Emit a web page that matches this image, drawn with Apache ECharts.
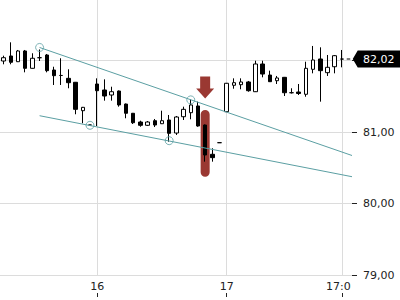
<!DOCTYPE html>
<html><head><meta charset="utf-8">
<script src="https://cdn.jsdelivr.net/npm/echarts@6/dist/echarts.min.js"></script>
<style>html,body{margin:0;padding:0;background:#fff}#c{width:400px;height:300px}</style>
</head><body><div id="c"></div>
<script>
// ---- data ----
const candleIndex = [0,1,2,3,4,5,6,7,8,9,10,11,12,13,14,15,16,17,18,19,20,21,22,23,24,25,26,27,28,29,30,31,32,33,34,35,36,37,38,39,40,41,42,43,44,45,46,47];
const opens  = [81.993,82.063,81.983,82.133,81.891,82.039,82.077,81.867,81.791,81.751,81.696,81.299,81.099,81.672,81.588,81.518,81.574,81.392,81.263,81.141,81.095,81.159,81.117,81.169,80.987,81.215,81.271,81.365,81.099,80.690,80.852,81.285,81.654,81.662,81.700,81.564,81.951,81.797,81.718,81.765,81.550,81.560,81.528,81.877,82.021,81.830,81.913,82.020];
const closes = [82.039,81.975,82.133,81.891,82.031,82.039,81.858,81.788,81.791,81.690,81.318,81.346,81.099,81.578,81.504,81.564,81.379,81.263,81.131,81.095,81.141,81.099,81.159,80.983,81.211,81.318,81.379,81.085,80.680,80.643,80.852,81.682,81.690,81.700,81.578,81.951,81.811,81.704,81.756,81.550,81.550,81.539,81.891,82.007,81.858,81.905,82.067,82.020];
const lows   = [81.947,81.947,81.979,81.835,81.888,81.993,81.835,81.658,81.658,81.612,81.249,81.123,81.099,81.085,81.439,81.439,81.355,81.193,81.113,81.075,81.085,81.071,81.113,80.866,80.960,81.169,81.179,81.075,80.587,80.587,80.852,81.281,81.606,81.598,81.564,81.560,81.765,81.700,81.672,81.504,81.539,81.518,81.494,81.821,81.425,81.784,81.821,81.905];
const highs  = [82.067,82.254,82.147,82.147,82.101,82.154,82.091,81.913,82.031,81.877,81.700,81.351,81.099,81.751,81.737,81.634,81.581,81.399,81.267,81.159,81.155,81.183,81.299,81.239,81.225,81.355,81.458,81.425,81.106,80.774,80.852,81.686,81.751,81.751,81.714,81.997,81.997,81.858,81.784,81.770,81.612,81.672,81.983,82.203,82.184,82.077,82.077,82.147];
const xTickValues = [13, 31, 47];
const xTickLabels = ['16', '17', '17:00'];
const yTickLabels = [79, 80, 81];
const upperTrend = [[5, 82.182], [48.4, 80.673]];
const lowerTrend = [[5, 81.229], [48.4, 80.377]];
const touchPoints = [[5, 82.182], [12, 81.095], [23, 80.88], [26, 81.45]];
const lastPrice = 82.02;
const signalCandle = 28;
const signalRange = [81.309, 80.377];
const arrowPrice = 81.623;

// ---- chart ----
const teal = '#5b9fa3';
const red = '#9a3832';
const font = 'DejaVu Sans';
const fmt = v => v.toFixed(2).replace('.', ',');
const candles = candleIndex.map((x, i) => [x, opens[i], closes[i], lows[i], highs[i]]);

const chart = echarts.init(document.getElementById('c'), null, {renderer: 'svg'});
chart.setOption({
  animation: false,
  backgroundColor: '#fff',
  grid: {left: 0, right: 48, top: -11.1, bottom: 24.7, containLabel: false, outerBoundsMode: 'none'},
  xAxis: [{
    type: 'value', min: -0.5, max: 48.4, position: 'bottom',
    axisLine: {show: false, onZero: false},
    axisTick: {show: false, customValues: xTickValues},
    axisLabel: {customValues: xTickValues, margin: 6, color: '#222', fontSize: 11, fontFamily: font,
      formatter: v => xTickLabels[xTickValues.indexOf(v)]},
    splitLine: {show: true, lineStyle: {color: '#dcdcdc', width: 1}}
  }, {
    type: 'value', min: -0.5, max: 48.4, position: 'bottom', offset: 21.7,
    axisLine: {show: false, onZero: false},
    axisTick: {show: true, inside: true, length: 4, customValues: xTickValues, lineStyle: {color: '#222'}},
    axisLabel: {show: false},
    splitLine: {show: false}
  }],
  yAxis: {
    type: 'value', position: 'right', min: 79, max: 83, interval: 1,
    axisLine: {show: false, onZero: false},
    axisTick: {show: true, length: 5, lineStyle: {color: '#222'}},
    axisLabel: {customValues: yTickLabels, margin: 11, color: '#222', fontSize: 11, fontFamily: font, formatter: fmt},
    splitLine: {show: true, lineStyle: {color: '#dcdcdc', width: 1}}
  },
  series: [{
    type: 'custom', z: 1, xAxisIndex: 0,
    data: [[signalCandle, signalRange[0], signalRange[1]]],
    encode: {x: 0, y: [1, 2]},
    renderItem: (params, api) => {
      const t = api.coord([api.value(0), api.value(1)]);
      const b = api.coord([api.value(0), api.value(2)]);
      return {type: 'rect', shape: {x: t[0] - 4.5, y: t[1], width: 9, height: b[1] - t[1], r: 4.5},
        style: {fill: red}};
    }
  }, {
    type: 'candlestick', z: 3, xAxisIndex: 0,
    data: candles,
    encode: {x: 0, y: [1, 2, 3, 4]},
    barWidth: 4,
    itemStyle: {color: '#fff', color0: '#000', borderColor: '#000', borderColor0: '#000', borderColorDoji: '#000', borderWidth: 1},
    markPoint: {
      z: 5,
      label: {show: false},
      data: [{
        coord: [candleIndex[candleIndex.length - 1], lastPrice],
        symbol: 'path://M-6,8H-2.5V9H-6ZM0,8.5L5,0H48V17H5Z',
        symbolSize: [54, 17], symbolOffset: [31.8, 0],
        itemStyle: {color: '#000'},
        label: {show: true, position: 'inside', offset: [5, 0], formatter: fmt(lastPrice), color: '#fff', fontSize: 11, fontFamily: font}
      }, {
        coord: [signalCandle, arrowPrice],
        symbol: 'path://M4,0H14V12H18L9,22L0,12H4Z',
        symbolSize: [18, 22],
        itemStyle: {color: red}
      }]
    }
  }, {
    type: 'line', z: 4, data: upperTrend, symbol: 'none', lineStyle: {color: teal, width: 1}
  }, {
    type: 'line', z: 4, data: lowerTrend, symbol: 'none', lineStyle: {color: teal, width: 1}
  }, {
    type: 'scatter', z: 4, data: touchPoints, symbol: 'circle', symbolSize: 8,
    itemStyle: {color: 'rgba(0,0,0,0)', borderColor: teal, borderWidth: 1}
  }],
  graphic: [{type: 'rect', z: 100, shape: {x: 351, y: 281, width: 49, height: 19}, style: {fill: '#fff'}}]
});
</script></body></html>
